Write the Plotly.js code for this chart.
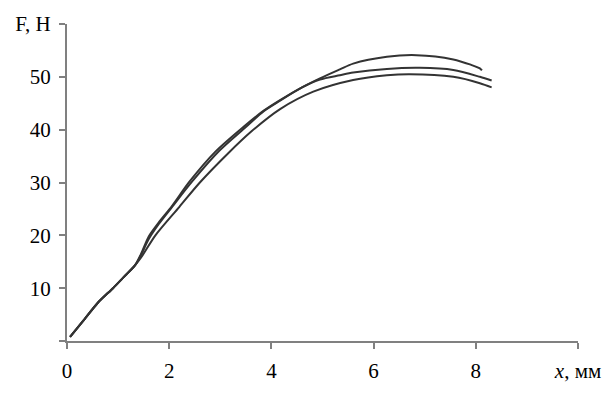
<!DOCTYPE html>
<html>
<head>
<meta charset="utf-8">
<script src="https://cdn.plot.ly/plotly-3.0.1.min.js"></script>
<style>
  html, body { margin: 0; padding: 0; background: #fff; }
  #chart { width: 613px; height: 406px; }
</style>
</head>
<body>
<div id="chart"></div>
<script>
// shared start, all three curves run together up to the kink
var startX = [0.06, 0.3, 0.6, 0.9, 1.1, 1.33];
var startY = [0.8, 3.6, 7.2, 10.0, 12.0, 14.3];

// top curve
var topX = [1.45, 1.6, 1.8, 2.05, 2.4, 2.9, 3.45, 3.85, 4.17, 4.6, 4.95, 5.34, 5.6, 6.26, 6.84, 7.56, 7.9, 8.08, 8.12];
var topY = [16.5, 19.8, 22.5, 25.5, 30.2, 35.8, 40.5, 43.6, 45.6, 48.0, 49.7, 51.4, 52.5, 53.8, 54.1, 53.3, 52.3, 51.6, 51.2];

// middle curve
var midX = [1.45, 1.6, 1.8, 2.05, 2.45, 2.98, 3.5, 3.85, 4.17, 4.6, 4.95, 5.34, 5.6, 6.26, 6.9, 7.56, 8.08, 8.31];
var midY = [16.3, 19.3, 22.2, 25.3, 30.2, 36.0, 40.5, 43.5, 45.5, 48.0, 49.5, 50.3, 50.8, 51.5, 51.7, 51.3, 50.0, 49.3];

// lower curve
var lowX = [1.45, 1.73, 2.2, 2.6, 3.15, 3.6, 4.17, 4.82, 5.6, 6.26, 6.71, 7.56, 8.08, 8.31];
var lowY = [15.8, 20.0, 25.4, 30.0, 35.5, 39.6, 43.9, 47.2, 49.4, 50.3, 50.5, 50.0, 48.8, 48.0];

var xTicks = [0, 2, 4, 6, 8, 10];
var xTickText = ['0', '2', '4', '6', '8', '<i>x</i>, мм'];
var yTicks = [0, 10, 20, 30, 40, 50, 60];
var yTickText = ['', '10', '20', '30', '40', '50', 'F, H'];

var lineStyle = { color: '#333333', width: 2, shape: 'spline', smoothing: 0.8 };

function curve(x, y) {
    return { mode: 'lines', x: startX.concat(x), y: startY.concat(y), line: lineStyle, hoverinfo: 'none' };
}

var data = [curve(topX, topY), curve(midX, midY), curve(lowX, lowY)];

var axisFont = { family: 'Liberation Serif, Times New Roman, serif', size: 21, color: '#000' };

var layout = {
    width: 613,
    height: 406,
    margin: { l: 67, r: 35, t: 24, b: 65 },
    paper_bgcolor: '#fff',
    plot_bgcolor: '#fff',
    showlegend: false,
    font: axisFont,
    xaxis: {
        range: [0, 10],
        tickvals: xTicks,
        ticktext: xTickText,
        ticks: 'outside',
        ticklen: 6,
        tickwidth: 2,
        tickcolor: '#808080',
        showline: true,
        linecolor: '#808080',
        linewidth: 2,
        showgrid: false,
        zeroline: false,
        tickfont: axisFont,
        ticklabelstandoff: 4
    },
    yaxis: {
        range: [0, 60],
        tickvals: yTicks,
        ticktext: yTickText,
        ticks: 'outside',
        ticklen: 6,
        tickwidth: 2,
        tickcolor: '#808080',
        showline: true,
        linecolor: '#808080',
        linewidth: 2,
        showgrid: false,
        zeroline: false,
        tickfont: axisFont,
        ticklabelstandoff: 4
    }
};

Plotly.newPlot('chart', data, layout, { staticPlot: true });
</script>
</body>
</html>
